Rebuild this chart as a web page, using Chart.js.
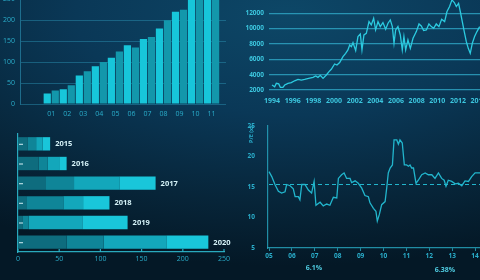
<!DOCTYPE html>
<html>
<head>
<meta charset="utf-8">
<script src="https://cdn.jsdelivr.net/npm/chart.js"></script>
<style>
html,body{margin:0;padding:0;}
body{width:480px;height:280px;overflow:hidden;position:relative;
  background:radial-gradient(ellipse 110% 90% at 60% 5%, #0d4767 0%, #0a3857 40%, #072539 75%, #041826 100%);
  font-family:'Open Sans',sans-serif;}
.box{position:absolute;}
.note{position:absolute;color:#4fcbe0;font-size:7px;font-weight:bold;transform:translate(-50%,-50%);white-space:nowrap;}
</style>
</head>
<body>
<div class="box" style="left:0;top:-31px;width:228px;height:151px"><canvas id="bars"></canvas></div>
<div class="box" style="left:230px;top:-11px;width:300px;height:119px"><canvas id="index"></canvas></div>
<div class="box" style="left:0;top:130px;width:250px;height:146px"><canvas id="years"></canvas></div>
<div class="box" style="left:240px;top:117px;width:260px;height:143px"><canvas id="pe"></canvas></div>
<div class="note" style="left:314px;top:267px">6.1%</div>
<div class="note" style="left:445px;top:269px">6.38%</div>

<script>
// top left: monthly pairs
const months = ['01','02','03','04','05','06','07','08','09','10','11'];
const seriesA = [25, 35, 68, 90, 110, 140, 155, 180, 220, 275, 300];
const seriesB = [32, 45, 78, 100, 125, 135, 160, 200, 225, 285, 310];

// top right: index level
const indexYears = [1994.00,1994.26,1994.42,1994.65,1994.81,1995.06,1995.23,1995.55,1995.87,1996.19,1996.52,1996.84,1997.16,1997.65,1997.97,1998.23,1998.45,1998.68,1998.94,1999.26,1999.52,1999.74,2000.06,2000.29,2000.55,2000.87,2001.13,2001.35,2001.52,2001.68,2001.84,2002.10,2002.32,2002.55,2002.71,2002.90,2003.13,2003.39,2003.61,2003.84,2004.03,2004.26,2004.48,2004.74,2005.00,2005.23,2005.45,2005.65,2005.81,2005.97,2006.19,2006.42,2006.61,2006.77,2006.94,2007.16,2007.39,2007.65,2007.97,2008.23,2008.45,2008.68,2008.94,2009.19,2009.42,2009.65,2009.90,2010.16,2010.42,2010.71,2010.94,2011.19,2011.42,2011.65,2011.84,2012.06,2012.26,2012.42,2012.61,2012.81,2013.00,2013.19,2013.39,2013.61,2013.84,2014.10];
const indexValues = [2650,2430,2870,2800,2350,2350,2650,2870,2960,3200,3390,3300,3390,3560,3650,3830,3650,3910,3520,3960,4390,4700,5390,5260,5570,6350,6780,7220,7870,7650,8170,7130,8960,9300,7220,9170,9390,10910,10480,11350,9830,10910,10260,10780,9910,10700,11130,10260,8090,9830,10260,9170,7220,8960,7220,8520,7430,8740,9610,10610,10350,9740,9830,10610,10260,10040,10610,10260,11220,10910,12220,12870,13740,13390,12870,13300,12000,10910,9610,8300,7430,6780,8090,8960,9610,10260];
const indexTicks = [1994,1996,1998,2000,2002,2004,2006,2008,2010,2012,2014];

// bottom left: stacked yearly bars
const years = ['2015','2016','2017','2018','2019','2020'];
const part1 = [12, 25, 34, 10, 6, 59];
const part2 = [10, 11, 34, 45, 7, 45];
const part3 = [8, 14, 55, 24, 65, 76];
const part4 = [9, 9, 44, 32, 55, 51];

// bottom right: P/E ratio
const peYears = [5.00,5.12,5.26,5.41,5.55,5.70,5.77,5.92,6.06,6.14,6.28,6.35,6.43,6.57,6.72,6.86,6.97,7.05,7.23,7.37,7.52,7.66,7.81,7.96,8.03,8.17,8.28,8.39,8.54,8.61,8.76,8.90,9.05,9.19,9.34,9.41,9.56,9.67,9.73,9.82,9.92,10.07,10.14,10.21,10.29,10.39,10.46,10.58,10.65,10.72,10.82,10.91,11.01,11.09,11.16,11.23,11.31,11.42,11.52,11.67,11.82,11.96,12.11,12.25,12.40,12.54,12.65,12.73,12.83,12.98,13.13,13.27,13.42,13.56,13.71,13.85,14.00,14.22];
const peValues = [17.5,16.7,15.4,14.3,14.0,14.2,15.4,15.2,14.7,13.4,13.4,12.9,15.4,15.4,14.5,14.0,15.9,12.0,12.5,11.9,12.2,12.0,13.3,13.2,16.4,17.0,17.3,16.4,16.4,15.7,16.0,15.6,14.8,13.6,13.4,12.4,11.5,11.0,9.4,10.5,12.1,12.6,14.8,17.3,18.1,18.6,22.7,22.7,22.0,22.7,22.2,18.6,18.6,18.4,18.6,18.1,18.1,15.6,16.1,17.0,17.3,17.0,17.0,16.4,17.3,16.4,16.1,15.1,16.1,15.9,15.5,15.6,15.2,16.0,15.9,16.7,17.3,17.3];
const peAverage = 15.4;
const peTicks = [5,6,7,8,9,10,11,12,13,14];

Chart.defaults.font.family = "'Open Sans', sans-serif";
Chart.defaults.animation = false;
Chart.defaults.plugins.legend.display = false;
Chart.defaults.plugins.tooltip.enabled = false;

const cyan = '#2aaecb';
const cyanBright = '#3cc6de';

// ---- top left
new Chart(document.getElementById('bars'), {
  type: 'bar',
  data: {
    datasets: [
      { data: months.map((m, i) => ({ x: i + 1, y: seriesA[i] })), backgroundColor: '#17c6da' },
      { data: months.map((m, i) => ({ x: i + 1, y: seriesB[i] })), backgroundColor: '#1397ab' }
    ]
  },
  options: {
    responsive: true, maintainAspectRatio: false,
    layout: { padding: { top: 6, right: 2, left: 0, bottom: 0 } },
    datasets: { bar: { categoryPercentage: 1, barPercentage: 0.9 } },
    scales: {
      x: {
        type: 'linear', min: -0.95, max: 11.9, offset: false,
        afterBuildTicks: s => { s.ticks = months.map((m, i) => ({ value: i + 1 })); },
        afterFit: s => { s.height = 16; },
        grid: { display: false, drawTicks: false, offset: false },
        border: { display: false },
        ticks: { autoSkip: false, padding: 6, color: cyan, font: { size: 7 },
          callback: v => months[v - 1] }
      },
      y: {
        min: 0, max: 300,
        afterBuildTicks: s => { s.ticks = [0,50,100,150,200,250,300].map(v => ({ value: v })); },
        afterFit: s => { s.width = 20; },
        grid: { color: 'rgba(45,150,185,0.45)', drawTicks: false },
        border: { color: 'rgba(45,150,185,0.6)' },
        ticks: { padding: 5, color: cyan, font: { size: 7 } }
      }
    }
  }
});

// ---- top right
new Chart(document.getElementById('index'), {
  type: 'line',
  data: {
    datasets: [{
      data: indexYears.map((y, i) => ({ x: y, y: indexValues[i] })),
      borderColor: '#2ccbe0', borderWidth: 1.3, pointRadius: 0, tension: 0
    }]
  },
  options: {
    responsive: true, maintainAspectRatio: false,
    layout: { padding: { top: 6, right: 5, left: 0, bottom: 0 } },
    scales: {
      x: {
        type: 'linear', min: 1993.71, max: 2018.49,
        afterBuildTicks: s => { s.ticks = indexTicks.map(v => ({ value: v })); },
        afterFit: s => { s.height = 18; },
        grid: { display: false, drawTicks: false },
        border: { display: false },
        ticks: { autoSkip: false, padding: 7, color: cyanBright, font: { size: 7, weight: 'bold' },
          callback: v => String(v) }
      },
      y: {
        min: 2000, max: 14000,
        afterBuildTicks: s => { s.ticks = [2000,4000,6000,8000,10000,12000,14000].map(v => ({ value: v })); },
        afterFit: s => { s.width = 39; },
        grid: { color: 'rgba(50,175,205,0.75)', lineWidth: 1.2, drawTicks: false },
        border: { display: false },
        ticks: { padding: 5, color: cyanBright, font: { size: 6.5, weight: 'bold' },
          callback: v => String(v) }
      }
    }
  }
});

// ---- bottom left
const barMarks = {
  id: 'barMarks',
  afterDatasetsDraw(chart) {
    const ctx = chart.ctx, xs = chart.scales.x;
    const top = chart.getDatasetMeta(chart.data.datasets.length - 1);
    ctx.save();
    ctx.font = "bold 7.5px 'Open Sans'";
    ctx.fillStyle = '#d6f3f8';
    ctx.textBaseline = 'middle';
    ctx.strokeStyle = 'rgba(220,245,250,0.8)';
    ctx.lineWidth = 1.2;
    top.data.forEach((bar, i) => {
      ctx.fillText(years[i], bar.x + 5, bar.y + 0.5);
      ctx.beginPath();
      ctx.moveTo(xs.left + 1, bar.y + 0.5);
      ctx.lineTo(xs.left + 5, bar.y + 0.5);
      ctx.stroke();
    });
    ctx.strokeStyle = 'rgba(45,185,205,0.9)';
    xs.ticks.forEach(t => {
      const px = xs.getPixelForValue(t.value);
      ctx.beginPath();
      ctx.moveTo(px, xs.top);
      ctx.lineTo(px, xs.top - 3);
      ctx.stroke();
    });
    ctx.restore();
  }
};

new Chart(document.getElementById('years'), {
  type: 'bar',
  data: {
    labels: years,
    datasets: [
      { data: part1, backgroundColor: '#0e6c7e' },
      { data: part2, backgroundColor: '#0f8598' },
      { data: part3, backgroundColor: '#13a7bb' },
      { data: part4, backgroundColor: '#19c6da' }
    ]
  },
  options: {
    indexAxis: 'y',
    responsive: true, maintainAspectRatio: false,
    layout: { padding: { top: 4, right: 26, left: 0, bottom: 0 } },
    datasets: { bar: { categoryPercentage: 1, barPercentage: 0.68 } },
    scales: {
      x: {
        stacked: true, min: 0, max: 250,
        afterBuildTicks: s => { s.ticks = [0,50,100,150,200,250].map(v => ({ value: v })); },
        afterFit: s => { s.height = 24; },
        grid: { display: false, drawTicks: false },
        border: { color: 'rgba(45,185,205,0.9)', width: 1.2 },
        ticks: { padding: 3, color: cyan, font: { size: 7 } }
      },
      y: {
        stacked: true,
        afterFit: s => { s.width = 18; },
        grid: { display: false, drawTicks: false },
        border: { color: 'rgba(45,185,205,0.9)', width: 1.2 },
        ticks: { display: false }
      }
    }
  },
  plugins: [barMarks]
});

// ---- bottom right
new Chart(document.getElementById('pe'), {
  type: 'line',
  data: {
    datasets: [
      {
        data: peYears.map((y, i) => ({ x: y, y: peValues[i] })),
        borderColor: '#22b5cc', borderWidth: 1.3, pointRadius: 0, tension: 0
      },
      {
        data: [{ x: peYears[0], y: peAverage }, { x: peYears[peYears.length - 1], y: peAverage }],
        borderColor: '#22b5cc', borderWidth: 1.2, borderDash: [4, 3], pointRadius: 0
      }
    ]
  },
  options: {
    responsive: true, maintainAspectRatio: false,
    layout: { padding: { top: 6, right: 5, left: 0, bottom: 0 } },
    scales: {
      x: {
        type: 'linear', min: 4.956, max: 14.87,
        afterBuildTicks: s => { s.ticks = peTicks.map(v => ({ value: v })); },
        afterFit: s => { s.height = 12; },
        grid: { drawOnChartArea: false, tickLength: 3, color: 'rgba(40,170,195,0.8)' },
        border: { color: 'rgba(40,170,195,0.8)', width: 1.2 },
        ticks: { autoSkip: false, padding: 1, color: cyan, font: { size: 6.5, weight: 'bold' },
          callback: v => String(v).padStart(2, '0') }
      },
      y: {
        min: 5, max: 25,
        afterBuildTicks: s => { s.ticks = [5,10,15,20,25].map(v => ({ value: v })); },
        afterFit: s => { s.width = 28; },
        grid: { display: false },
        border: { color: 'rgba(40,170,195,0.8)', width: 1.2 },
        title: { display: true, text: 'P/E (x)', align: 'end', color: cyan,
          font: { size: 5.5, weight: 'bold' }, padding: { top: 8, bottom: 0 } },
        ticks: { padding: 5, color: cyan, font: { size: 6.5, weight: 'bold' } }
      }
    }
  }
});
</script>
</body>
</html>
